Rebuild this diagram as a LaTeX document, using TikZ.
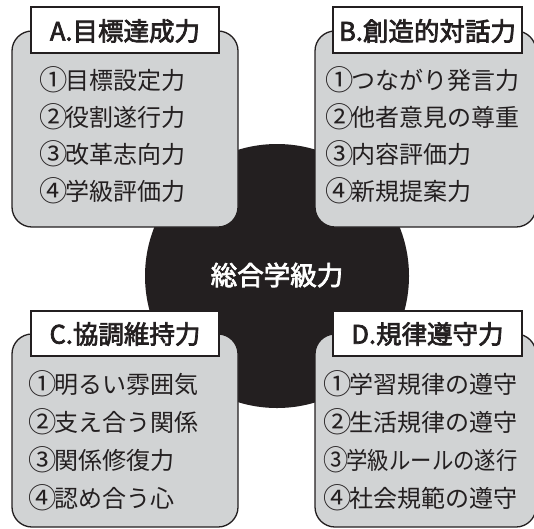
\documentclass[tikz,border=0pt]{standalone}
\usepackage{fontspec}
\newfontfamily\jp{Noto Sans CJK JP}
\definecolor{ink}{HTML}{231F20}
\definecolor{panel}{HTML}{D1D3D4}
\newcommand\cnum[1]{\makebox[1em][c]{\raisebox{-0.06em}{\scalebox{1.18}{#1}}}}
\newcommand\emb[1]{\special{pdf:literal direct 2 Tr 0.7 w}#1\special{pdf:literal direct 0 Tr}}
\begin{document}
\begin{tikzpicture}[x=1pt,y=-1pt,
  panelbox/.style={draw=ink,line width=1.3pt,fill=panel,rounded corners=20pt},
  titlebox/.style={draw=ink,line width=1.3pt,fill=white},
  titletext/.style={font=\jp\fontsize{25.5}{27}\selectfont,text=ink,inner sep=0pt},
  itemtext/.style={font=\jp\fontsize{24}{26}\selectfont,text=ink,anchor=west,inner sep=0pt},
  centertext/.style={font=\jp\fontsize{26.5}{28}\selectfont,text=white,inner sep=0pt}]
\useasboundingbox (0,0) rectangle (534,528);
% central circle
\fill[ink] (277,276) circle (132);
\node[centertext] (core) at (277,275) {\emb{総合学級力}};
% panels
\draw[panelbox] (12,31) rectangle (238,227);
\draw[panelbox] (315,31) rectangle (536,227);
\draw[panelbox] (12,334) rectangle (238,527);
\draw[panelbox] (315,334) rectangle (536,527);
% title boxes
\draw[titlebox] (31,7) rectangle (219,53);
\draw[titlebox] (333,7) rectangle (522,53);
\draw[titlebox] (31,311) rectangle (219,356);
\draw[titlebox] (333,311) rectangle (522,356);
\node[titletext] (ta) at (125,31) {\emb{A.目標達成力}};
\node[titletext] (tb) at (427.5,31) {\emb{B.創造的対話力}};
\node[titletext] (tc) at (125,334) {\emb{C.協調維持力}};
\node[titletext] (td) at (427.5,334) {\emb{D.規律遵守力}};
% items A
\node[itemtext] (a1) at (41,80) {\cnum{①}目標設定力};
\node[itemtext] (a2) at (41,117) {\cnum{②}役割遂行力};
\node[itemtext] (a3) at (41,154) {\cnum{③}改革志向力};
\node[itemtext] (a4) at (41,191) {\cnum{④}学級評価力};
% items B
\node[itemtext] (b1) at (327,80) {\cnum{①}つながり発言力};
\node[itemtext] (b2) at (327,117) {\cnum{②}他者意見の尊重};
\node[itemtext] (b3) at (327,154) {\cnum{③}内容評価力};
\node[itemtext] (b4) at (327,191) {\cnum{④}新規提案力};
% items C
\node[itemtext] (c1) at (30,384) {\cnum{①}明るい雰囲気};
\node[itemtext] (c2) at (30,422) {\cnum{②}支え合う関係};
\node[itemtext] (c3) at (30,460) {\cnum{③}関係修復力};
\node[itemtext] (c4) at (30,498) {\cnum{④}認め合う心};
% items D
\node[itemtext] (d1) at (325,384) {\cnum{①}学習規律の遵守};
\node[itemtext] (d2) at (325,422) {\cnum{②}生活規律の遵守};
\node[itemtext] (d3) at (325,460) {\scalebox{0.89}[1]{\cnum{③}学級ルールの遂行}};
\node[itemtext] (d4) at (325,498) {\cnum{④}社会規範の遵守};
\end{tikzpicture}
\end{document}
